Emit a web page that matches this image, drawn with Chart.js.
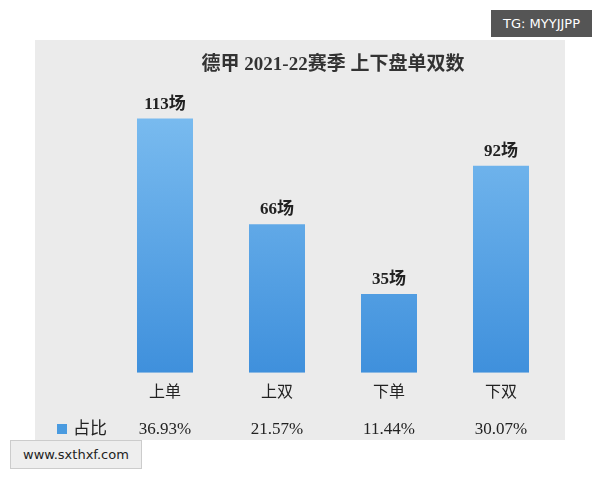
<!DOCTYPE html>
<html><head><meta charset="utf-8">
<script src="https://cdn.jsdelivr.net/npm/chart.js@4"></script>
<style>
body{margin:0;background:#fff;width:600px;height:480px;position:relative;overflow:hidden}
#panel{position:absolute;left:35px;top:40px;width:530px;height:400px;background:#ebebeb}
.wm{position:absolute;font-family:"DejaVu Sans",sans-serif;font-size:13px;padding:6px 12px}
</style></head><body>
<div id="panel"><canvas id="c" width="530" height="400"></canvas></div>
<div class="wm" style="right:8px;top:10px;background:#555;color:#fff">TG: MYYJJPP</div>
<div class="wm" style="left:10px;top:440px;background:#eee;color:#222;border:1px solid #ccc">www.sxthxf.com</div>
<script>
const categories = ["上单", "上双", "下单", "下双"];
const counts = [113, 66, 35, 92];
const shares = ["36.93%", "21.57%", "11.44%", "30.07%"];
const FONT = "'Liberation Serif','Noto Sans CJK SC',serif";

const extras = {
  id: "extras",
  afterDatasetsDraw(chart) {
    const ctx = chart.ctx;
    const meta = chart.getDatasetMeta(0);
    ctx.save();
    ctx.fillStyle = "#222";
    ctx.textAlign = "center";
    ctx.font = "bold 17px " + FONT;
    meta.data.forEach((bar, i) => {
      ctx.fillText(counts[i] + "场", bar.x, bar.y - 10);
    });
    ctx.font = "17px " + FONT;
    ctx.textBaseline = "middle";
    meta.data.forEach((bar, i) => ctx.fillText(shares[i], bar.x, 390));
    ctx.fillStyle = "#4a9be0";
    ctx.fillRect(22, 384, 10, 10);
    ctx.fillStyle = "#222";
    ctx.textAlign = "left";
    ctx.fillText("占比", 38, 390);
    ctx.restore();
  }
};

new Chart(document.getElementById("c"), {
  type: "bar",
  data: {
    labels: categories,
    datasets: [{
      data: counts,
      backgroundColor: (c) => {
        const a = c.chart.chartArea;
        if (!a) return "#5aa6e8";
        const g = c.chart.ctx.createLinearGradient(0, a.top, 0, a.bottom);
        g.addColorStop(0, "#7cbdf0");
        g.addColorStop(1, "#3f90dc");
        return g;
      },
      categoryPercentage: 1,
      barPercentage: 0.5
    }]
  },
  options: {
    responsive: false,
    animation: false,
    layout: { padding: { left: 74, right: 8, bottom: 36 } },
    scales: {
      y: { display: false, min: 0, max: 120 },
      x: {
        grid: { display: false }, border: { display: false },
        ticks: { color: "#222", font: { size: 16, family: FONT }, padding: 2 }
      }
    },
    plugins: {
      legend: { display: false },
      tooltip: { enabled: false },
      title: {
        display: true,
        text: "德甲 2021-22赛季 上下盘单双数",
        color: "#333",
        font: { size: 19, weight: "bold", family: FONT },
        padding: { top: 14, bottom: 26 }
      }
    }
  },
  plugins: [extras]
});
</script>
</body></html>
